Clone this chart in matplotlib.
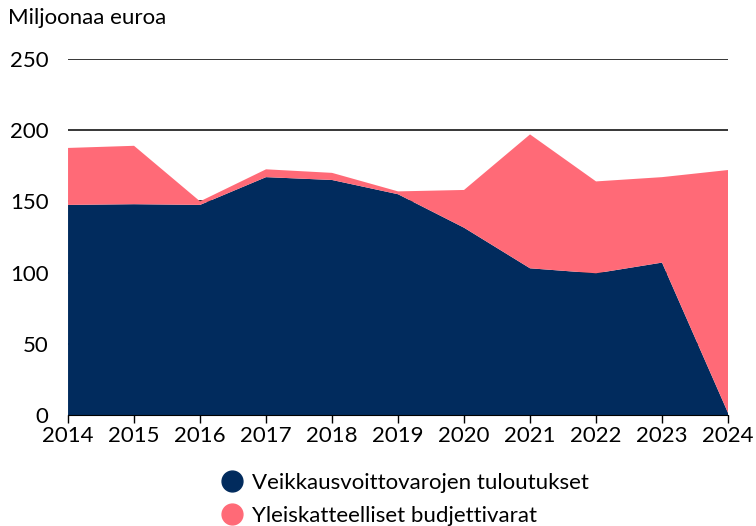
import numpy as np
import matplotlib.pyplot as plt
from matplotlib.lines import Line2D

plt.rcParams['font.family'] = ['Lato', 'DejaVu Sans']

years = [2014, 2015, 2016, 2017, 2018, 2019, 2020, 2021, 2022, 2023, 2024]
veikkaus = [147.5, 148, 147.5, 167, 165, 155, 131.5, 103, 99.5, 107, 1.5]
budjetti = [40, 41, 2.5, 5.5, 5, 2, 26.5, 94, 64.5, 60, 170.5]

navy = '#012b5d'
pink = '#ff6a77'

fig = plt.figure(figsize=(7.56, 5.26), dpi=100)
ax = fig.add_axes([0.09, 0.211, 0.873, 0.677])

ax.set_axisbelow(True)
ax.grid(axis='y', color='black', linewidth=1.1)
ax.stackplot(years, veikkaus, budjetti, colors=[navy, pink], zorder=2)

ax.set_xlim(2014, 2024)
ax.set_ylim(0, 250)
ax.set_xticks(years)
ax.set_yticks([0, 50, 100, 150, 200, 250])
ax.tick_params(axis='y', length=0, pad=14, labelsize=16)
ax.tick_params(axis='x', length=6, width=1, color='black', labelsize=16, pad=2)
for s in ['top', 'right', 'left']:
    ax.spines[s].set_visible(False)
ax.spines['bottom'].set_color('black')
ax.spines['bottom'].set_zorder(3)

fig.text(0.01, 0.965, 'Miljoonaa euroa', fontsize=16, va='center', ha='left')

handles = [
    Line2D([], [], marker='o', linestyle='none', markersize=15, color=navy),
    Line2D([], [], marker='o', linestyle='none', markersize=15, color=pink),
]
fig.legend(handles, ['Veikkausvoittovarojen tuloutukset', 'Yleiskatteelliset budjettivarat'],
           loc='upper left', bbox_to_anchor=(0.292, 0.101), frameon=False, fontsize=16,
           handlelength=1.0, handletextpad=0.4, labelspacing=0.6,
           borderaxespad=0, borderpad=0)

fig.savefig('out.png', dpi=100)
